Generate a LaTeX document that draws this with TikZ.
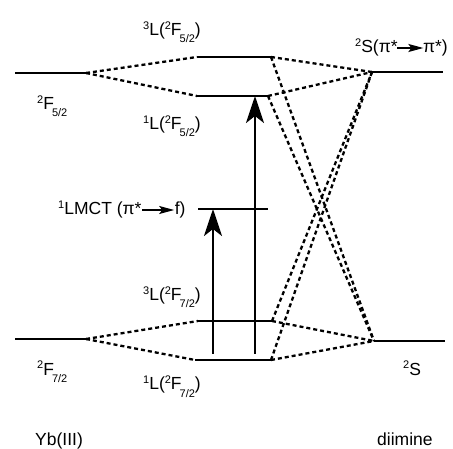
\documentclass[tikz,border=0pt]{standalone}
\usepackage{fontspec}
\setmainfont{Liberation Sans}
\usepackage{tikz}
\usetikzlibrary{arrows.meta,calc}
\newcommand{\upidx}[1]{\raisebox{6pt}{\fontsize{11}{11}\selectfont #1}}
\newcommand{\dnidx}[1]{\raisebox{-7pt}{\fontsize{11}{11}\selectfont #1}}
\newcommand{\ctarrow}[1]{\tikz[baseline=-5pt]\draw[line width=1.3pt,-{Stealth[length=15pt,width=8pt,inset=3pt]}] (0pt,0pt)--(#1,0pt);}

\begin{document}
\begin{tikzpicture}[x=1pt,y=-1pt,
		level/.style={line width=2.4pt},
		corr/.style={line width=2.3pt,dash pattern=on 4pt off 3pt},
		excite/.style={-{Stealth[length=27pt,width=18pt,inset=7pt]},line width=2.4pt},
		lab/.style={anchor=base west,inner sep=0pt,font=\fontsize{17.5}{20}\selectfont}]
		\useasboundingbox (0,0) rectangle (453,449);
		
		% Level end points: Yb(III) left, mixed states middle, diimine right.
		\coordinate (F52a) at (15,73);   \coordinate (F52b) at (86,73);
		\coordinate (L3a) at (197,57);   \coordinate (L3b) at (271,57);
		\coordinate (L1a) at (197,96);   \coordinate (L1b) at (268,96);
		\coordinate (Spa) at (372,72);   \coordinate (Spb) at (443,72);
		\coordinate (LMa) at (198,209);  \coordinate (LMb) at (268,209);
		\coordinate (T3a) at (198,321);  \coordinate (T3b) at (272,321);
		\coordinate (T1a) at (195,360);  \coordinate (T1b) at (271,360);
		\coordinate (F72a) at (15,339);  \coordinate (F72b) at (86,339);
		\coordinate (Sa) at (374,341);   \coordinate (Sb) at (445,341);
		
		% Correlation lines.
		\foreach \a/\b in {F52b/L3a,F52b/L1a,L3b/Spa,L1b/Spa,L3b/Sa,L1b/Sa,
			F72b/T3a,F72b/T1a,T3b/Sa,T1b/Sa,T3b/Spa,T1b/Spa}{
			\draw[corr] (\a)--(\b);
		}
		
		% Energy levels.
		\foreach \a/\b in {F52a/F52b,L3a/L3b,L1a/L1b,Spa/Spb,LMa/LMb,
			T3a/T3b,T1a/T1b,F72a/F72b,Sa/Sb}{
			\draw[level] (\a)--(\b);
		}
		
		% Excitation arrows from the ground level.
		\coordinate (up1) at (213,354);
		\coordinate (up2) at (255,354);
		\draw[excite] (up1)--(up1 |- LMa);
		\draw[excite] (up2)--(up2 |- L1a);
		
		\node[lab] (tL52) at (143,36) {\upidx{3}L(\upidx{2}F\kern-2pt\dnidx{5/2})};
		\node[lab] (tF52) at (37,110) {\upidx{2}F\kern-2pt\dnidx{5/2}};
		\node[lab] (sL52) at (143,130) {\upidx{1}L(\upidx{2}F\kern-2pt\dnidx{5/2})};
		\node[lab] (tSpp) at (355,53) {\upidx{2}S(π*\kern-1pt\ctarrow{26pt}\kern-1ptπ*)};
		\node[lab] (tLMCT) at (58,215) {\upidx{1}LMCT (π*\ctarrow{32pt}f)};
		\node[lab] (tL72) at (143,301) {\upidx{3}L(\upidx{2}F\kern-2pt\dnidx{7/2})};
		\node[lab] (tF72) at (37,375) {\upidx{2}F\kern-2pt\dnidx{7/2}};
		\node[lab] (sL72) at (143,390) {\upidx{1}L(\upidx{2}F\kern-2pt\dnidx{7/2})};
		\node[lab] (tS) at (403,375) {\upidx{2}S};
		\node[lab] (tYb) at (35,446) {Yb(III)};
		\node[lab] (tdi) at (377,446) {diimine};
	\end{tikzpicture}
\end{document}
